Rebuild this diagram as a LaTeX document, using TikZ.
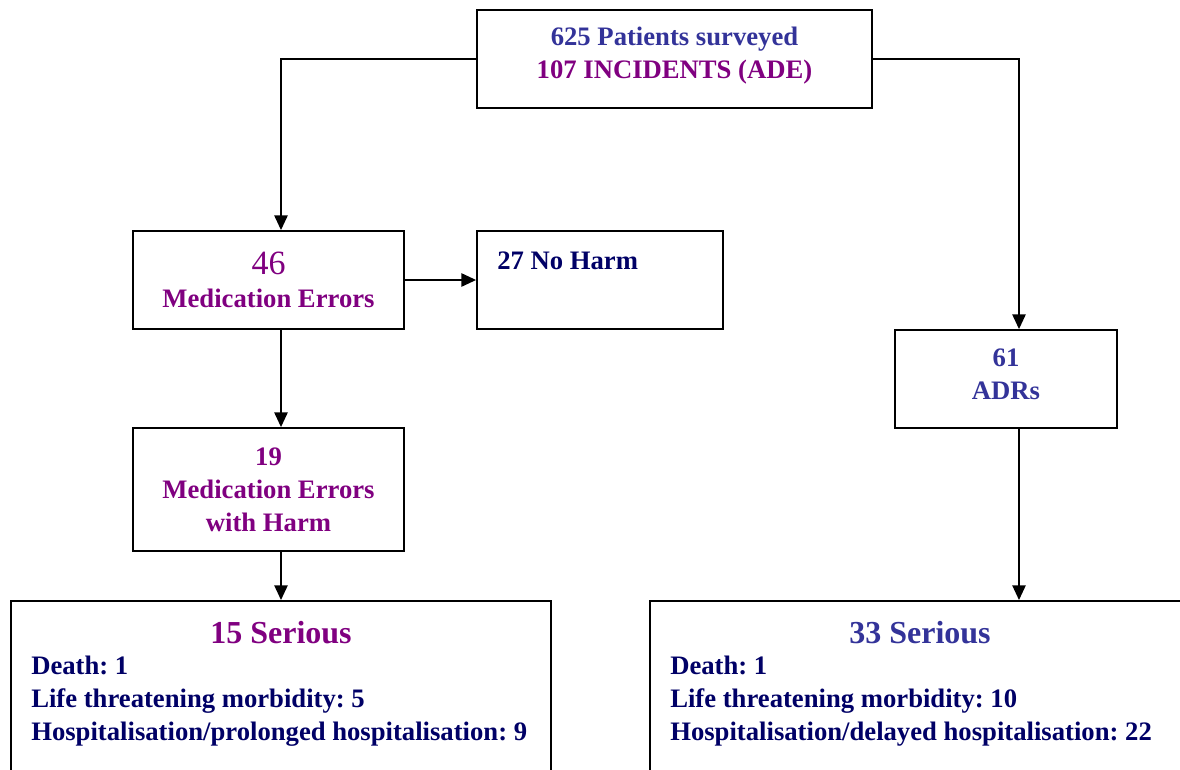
\documentclass[tikz,border=0pt]{standalone}
\usepackage{fontspec}
\setmainfont{Liberation Serif}
\usepackage{xcolor}
\usetikzlibrary{positioning,arrows.meta}
\definecolor{repBlue}{HTML}{333399}
\definecolor{repPurple}{HTML}{800080}
\definecolor{repNavy}{HTML}{000066}
\frenchspacing

\begin{document}
\begin{tikzpicture}[x=0.75pt, y=-0.75pt,
  box/.style args = {#1,#2}{draw, line width=1.4pt, minimum width=#1, minimum height=#2, inner sep=0pt},
  txt/.style={font=\fontsize{20}{24.75}\selectfont\bfseries, align=center, inner sep=0pt},
  big/.style={font=\fontsize{24}{28}\selectfont\bfseries, inner sep=0pt},
  link/.style={line width=1.1pt, -{Triangle[length=11pt,width=10pt]}}]
\clip (0,0) rectangle (1180,770);
% boxes
\node (topBox) [box={296.25pt,73.5pt}] at (674.5,59) {};
\node (topTxt) [txt] at (674.5,56) {\textcolor{repBlue}{625 Patients surveyed}\\ \textcolor{repPurple}{107 INCIDENTS (ADE)}};
\node (medErr) [box={203.25pt,73.5pt}, txt, text=repPurple] at (268.5,280) {{\fontsize{25.5}{28}\selectfont\mdseries 46}\\ Medication Errors};
\node (noHarm) [box={184.5pt,73.5pt}] at (600,280) {};
\node (noHarmTxt) [txt, text=repNavy, anchor=base west] at (497,269) {27 No Harm};
\node (medHarm) [box={203.25pt,92.25pt}, txt, text=repPurple] at (268.5,489.5) {19\\ Medication Errors\\ with Harm};
\node (adrBox) [box={166.5pt,73.5pt}] at (1006,379) {};
\node (adrTxt) [txt, text=repBlue] at (1006,374) {61\\ ADRs};
\node (seriousL) [box={405pt,150pt}, anchor=north] at (281,600) {};
\node (seriousLTitle) [big, text=repPurple, anchor=base] at (281,643) {15 Serious};
\node (seriousLList) [txt, align=left, text=repNavy, anchor=base west] at (31,740) {Death: 1\\ Life threatening morbidity: 5\\ Hospitalisation/prolonged hospitalisation: 9};
\node (seriousR) [box={405pt,150pt}, anchor=north] at (920,600) {};
\node (seriousRTitle) [big, text=repBlue, anchor=base] at (920,643) {33 Serious};
\node (seriousRList) [txt, align=left, text=repNavy, anchor=base west] at (670,740) {Death: 1\\ Life threatening morbidity: 10\\ Hospitalisation/delayed hospitalisation: 22};
% connectors
\coordinate (leftCol) at (281,0);
\coordinate (rightCol) at (1019,0);
\draw[link] (topBox.west) -| (leftCol |- medErr.north);
\draw[link] (topBox.east) -| (rightCol |- adrBox.north);
\draw[link] (medErr.east) -- (noHarm.west);
\draw[link] (leftCol |- medErr.south) -- (leftCol |- medHarm.north);
\draw[link] (leftCol |- medHarm.south) -- (leftCol |- seriousL.north);
\draw[link] (rightCol |- adrBox.south) -- (rightCol |- seriousR.north);
\end{tikzpicture}
\end{document}
